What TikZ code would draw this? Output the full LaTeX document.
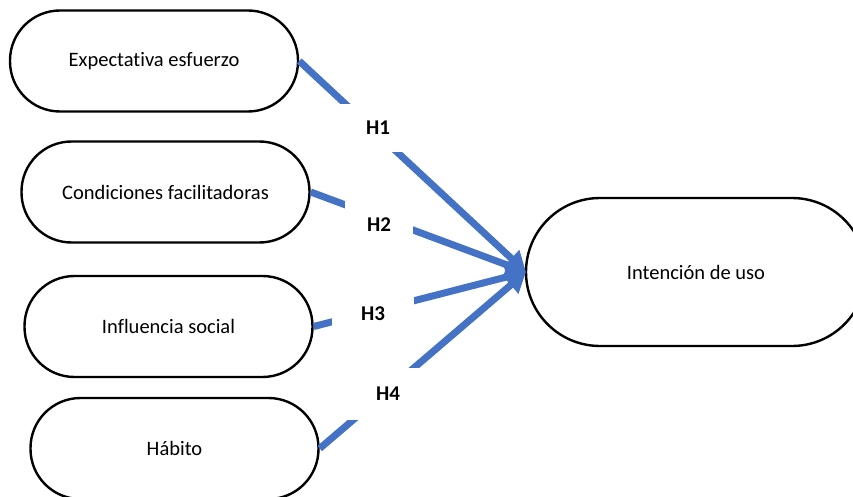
\documentclass[tikz,border=0pt]{standalone}
\usepackage{fontspec}
\setmainfont{Carlito}[RawFeature={-liga;-dlig}]
\usetikzlibrary{arrows.meta}
\definecolor{arrowblue}{HTML}{4472C4}
\tikzset{
  x=1pt,y=-1pt,
  pill/.style={draw=black,line width=2.4pt,rounded corners=50pt,fill=white,
    minimum width=288pt,minimum height=101pt,inner sep=0pt,font=\fontsize{20.5}{24}\selectfont},
  link/.style={draw=arrowblue,line width=7pt,-{Triangle[length=20pt,width=22pt]},shorten >=0pt},
  hyp/.style={fill=white,inner sep=0pt,font=\bfseries\fontsize{21}{24}\selectfont}
}
\begin{document}
\begin{tikzpicture}
\useasboundingbox (0,0) rectangle (853,497);
\clip (0,0) rectangle (853,497);
\node[pill] (a) at (154,61) {Expectativa esfuerzo};
\node[pill] (b) at (165.5,192) {Condiciones facilitadoras};
\node[pill] (c) at (168.5,326.5) {Influencia social};
\node[pill] (d) at (174.5,448.5) {Hábito};
\node[pill,minimum width=340pt,minimum height=148pt,rounded corners=74pt] (e) at (696,272) {Intención de uso};
\coordinate (tip) at (526,272);
\draw[link] (a.east) -- (tip);
\draw[link] (b.east) -- (tip);
\draw[link] (c.east) -- (tip);
\draw[link] (d.east) -- (tip);
\node[hyp,minimum width=76pt,minimum height=48pt] (h1) at (378,128) {H1};
\node[hyp,minimum width=68pt,minimum height=50pt] (h2) at (379,225) {H2};
\node[hyp,minimum width=82pt,minimum height=46pt] (h3) at (373,314) {H3};
\node[hyp,minimum width=86pt,minimum height=52pt] (h4) at (388,394) {H4};
\end{tikzpicture}
\end{document}
